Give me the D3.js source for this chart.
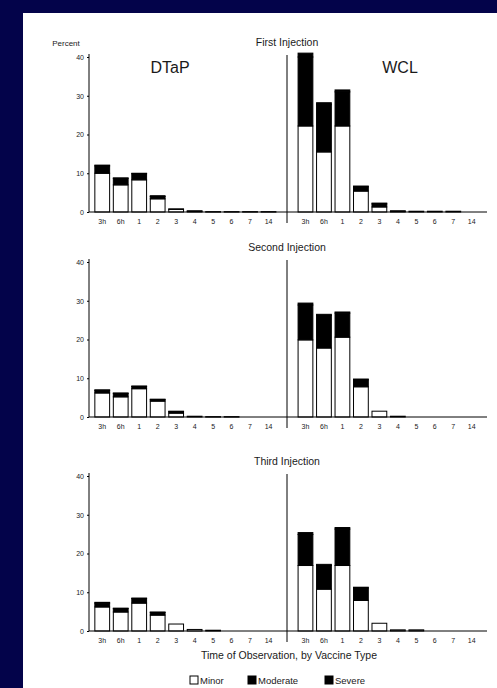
<!DOCTYPE html>
<html>
<head>
<meta charset="utf-8">
<script src="https://cdn.jsdelivr.net/npm/d3@7"></script>
<style>
    body { margin: 0; background: #03034a; }
    svg { display: block; }
    text { font-family: "Liberation Sans", Arial, sans-serif; fill: #1a1a1a; }
</style>
</head>
<body>
<script>
"use strict";

// categories
const times = ["3h", "6h", "1", "2", "3", "4", "5", "6", "7", "14"]
const vaccines = ["DTaP", "WCL"]
const injections = ["First Injection", "Second Injection", "Third Injection"]
const yTicks = [0, 10, 20, 30, 40]

// percent of children with reaction, by injection (rows) and time
const dtapMinor = [
    [10.0, 7.0, 8.3, 3.4, 0.7, 0.2, 0.1, 0.1, 0.1, 0.1],
    [6.2, 5.2, 7.3, 4.1, 1.0, 0.2, 0.1, 0.1, 0.0, 0.0],
    [6.2, 4.9, 7.2, 4.1, 1.8, 0.4, 0.2, 0.0, 0.0, 0.0]
]
const dtapModerate = [
    [1.9, 1.7, 1.6, 0.6, 0.1, 0.1, 0.0, 0.0, 0.0, 0.0],
    [0.7, 0.9, 0.6, 0.4, 0.4, 0.0, 0.0, 0.0, 0.0, 0.0],
    [1.0, 0.9, 1.2, 0.7, 0.0, 0.0, 0.0, 0.0, 0.0, 0.0]
]
const dtapSevere = [
    [0.2, 0.1, 0.1, 0.2, 0.0, 0.0, 0.0, 0.0, 0.0, 0.0],
    [0.1, 0.1, 0.1, 0.1, 0.1, 0.0, 0.0, 0.0, 0.0, 0.0],
    [0.2, 0.1, 0.1, 0.1, 0.0, 0.0, 0.0, 0.0, 0.0, 0.0]
]
const wclMinor = [
    [22.2, 15.5, 22.2, 5.4, 1.3, 0.2, 0.2, 0.2, 0.2, 0.0],
    [19.9, 17.8, 20.6, 7.8, 1.5, 0.2, 0.0, 0.0, 0.0, 0.0],
    [16.9, 10.8, 16.9, 7.9, 2.0, 0.3, 0.3, 0.0, 0.0, 0.0]
]
const wclModerate = [
    [17.8, 12.2, 8.8, 1.1, 0.8, 0.1, 0.0, 0.0, 0.0, 0.0],
    [9.0, 8.4, 6.2, 1.8, 0.0, 0.0, 0.0, 0.0, 0.0, 0.0],
    [8.0, 6.1, 9.4, 3.2, 0.0, 0.0, 0.0, 0.0, 0.0, 0.0]
]
const wclSevere = [
    [1.0, 0.5, 0.5, 0.2, 0.2, 0.0, 0.0, 0.0, 0.0, 0.0],
    [0.5, 0.3, 0.3, 0.2, 0.0, 0.0, 0.0, 0.0, 0.0, 0.0],
    [0.5, 0.3, 0.4, 0.2, 0.0, 0.0, 0.0, 0.0, 0.0, 0.0]
]
const severities = ["Minor", "Moderate", "Severe"]

// layout
const measurements = {
    width: 497,
    height: 688,
    panelLeft: 23,
    panelTop: 13,
    yAxisX: 89,
    xLeft: 93,
    xRight: 481,
    panelTops: [57, 262, 476],
    panelHeight: 155
}
const fills = { Minor: "#fff", Moderate: "#000", Severe: "#000" }

const svg = d3.select("body").append("svg")
    .attr("width", measurements.width)
    .attr("height", measurements.height)

svg.append("rect")
    .attr("x", measurements.panelLeft)
    .attr("y", measurements.panelTop)
    .attr("width", measurements.width - measurements.panelLeft)
    .attr("height", measurements.height - measurements.panelTop)
    .attr("fill", "#fff")

// x keys: DTaP times, a gap, WCL times
const xKeys = times.map(t => "DTaP|" + t).concat(["gap"], times.map(t => "WCL|" + t))
const x = d3.scaleBand()
    .domain(xKeys)
    .range([measurements.xLeft, measurements.xRight])
    .paddingInner(0.2)
    .paddingOuter(0.1)
const dividerX = x("gap") + x.bandwidth() / 2

const series = {
    DTaP: [dtapMinor, dtapModerate, dtapSevere],
    WCL: [wclMinor, wclModerate, wclSevere]
}

injections.forEach(function(title, p) {
    const top = measurements.panelTops[p]
    const y = d3.scaleLinear()
        .domain([0, 40])
        .range([top + measurements.panelHeight, top])
    const g = svg.append("g")

    // build rows for stacking
    const rows = []
    vaccines.forEach(function(v) {
        times.forEach(function(t, i) {
            rows.push({
                key: v + "|" + t,
                Minor: series[v][0][p][i],
                Moderate: series[v][1][p][i],
                Severe: series[v][2][p][i]
            })
        })
    })
    const stacked = d3.stack().keys(severities)(rows)

    g.selectAll(".layer")
        .data(stacked)
        .enter()
        .append("g")
            .attr("fill", d => fills[d.key])
            .attr("stroke", "#000")
            .attr("stroke-width", 1)
        .selectAll("rect")
        .data(d => d.filter(s => s[1] - s[0] > 0))
        .enter()
        .append("rect")
            .attr("x", d => x(d.data.key))
            .attr("width", x.bandwidth())
            .attr("y", d => y(d[1]))
            .attr("height", d => Math.max(0.5, y(d[0]) - y(d[1])))

    // y axis
    const yAxis = d3.axisLeft(y).tickValues(yTicks).tickSize(2).tickPadding(3)
    g.append("g")
        .attr("transform", "translate(" + measurements.yAxisX + ",0)")
        .call(yAxis)
        .call(a => a.selectAll("text").style("font-size", "7px").attr("fill", "#222"))
        .call(a => a.select(".domain").attr("d", "M0," + (top - 3) + "V" + (top + measurements.panelHeight)))

    // x axis
    const xAxis = d3.axisBottom(x).tickSize(0).tickPadding(7)
        .tickFormat(k => k === "gap" ? "" : k.split("|")[1])
    g.append("g")
        .attr("transform", "translate(0," + y(0) + ")")
        .call(xAxis)
        .call(a => a.selectAll("text").style("font-size", "7px").attr("fill", "#222"))
        .call(a => a.select(".domain").remove())
    g.append("line")
        .attr("x1", measurements.yAxisX)
        .attr("x2", measurements.xRight + 6)
        .attr("y1", y(0))
        .attr("y2", y(0))
        .attr("stroke", "#000")
        .attr("stroke-width", 1)

    // divider between vaccine groups
    g.append("line")
        .attr("x1", dividerX)
        .attr("x2", dividerX)
        .attr("y1", top - 2)
        .attr("y2", y(0) + 11)
        .attr("stroke", "#000")
        .attr("stroke-width", 1)

    // panel title
    g.append("text")
        .attr("x", dividerX)
        .attr("y", top - 11)
        .attr("text-anchor", "middle")
        .style("font-size", "10.5px")
        .text(title)

    if (p === 0) {
        g.append("text")
            .attr("x", 66)
            .attr("y", top - 11)
            .attr("text-anchor", "middle")
            .style("font-size", "8px")
            .text("Percent")
        g.append("text")
            .attr("x", 170)
            .attr("y", 73)
            .attr("text-anchor", "middle")
            .style("font-size", "16px")
            .text("DTaP")
        g.append("text")
            .attr("x", 400)
            .attr("y", 73)
            .attr("text-anchor", "middle")
            .style("font-size", "16px")
            .text("WCL")
    }
})

// x axis title
svg.append("text")
    .attr("x", 289)
    .attr("y", 659)
    .attr("text-anchor", "middle")
    .style("font-size", "10.5px")
    .text("Time of Observation, by Vaccine Type")

// legend
const legendX = [190, 248, 325]
const legend = svg.selectAll(".legend")
    .data(severities)
    .enter()
    .append("g")
        .attr("transform", (d, i) => "translate(" + legendX[i] + ",676)")
legend.append("rect")
    .attr("width", 8)
    .attr("height", 8)
    .attr("fill", d => fills[d])
    .attr("stroke", "#000")
legend.append("text")
    .attr("x", 10)
    .attr("y", 8)
    .style("font-size", "9.5px")
    .text(d => d)
</script>
</body>
</html>
